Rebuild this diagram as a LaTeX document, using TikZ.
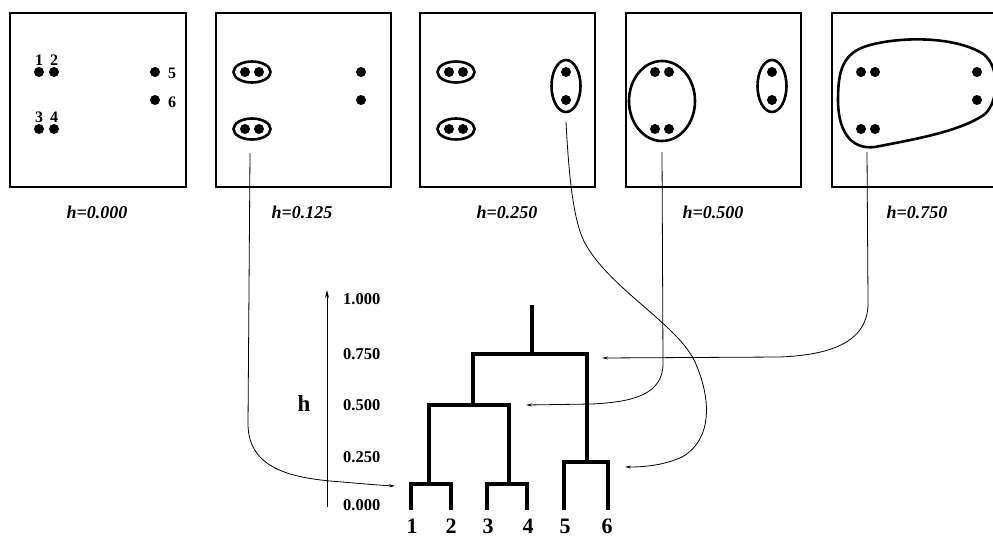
\documentclass[tikz,border=0pt]{standalone}
\usepackage{fontspec}
\setmainfont{Liberation Serif}
\usetikzlibrary{arrows.meta}
\begin{document}
\begin{tikzpicture}[x=1pt,y=-1pt,
  panel/.style={draw,line width=1.1pt},
  pt/.style={fill,circle,inner sep=0pt,minimum size=10pt},
  grp/.style={draw,line width=2.6pt},
  plab/.style={font=\fontsize{18}{21}\selectfont\bfseries\itshape,inner sep=0pt},
  num/.style={font=\fontsize{16}{18}\selectfont\bfseries,inner sep=0pt},
  tick/.style={font=\fontsize{16.5}{19}\selectfont\bfseries,inner sep=0pt,anchor=west},
  leaf/.style={font=\fontsize{22}{24}\selectfont\bfseries,inner sep=0pt,anchor=base},
  hlab/.style={font=\fontsize{23}{26}\selectfont\bfseries,inner sep=0pt},
  dend/.style={line width=3.4pt},
  link/.style={line width=0.8pt,-{Stealth[length=6pt,width=3pt]}}
]
\useasboundingbox (0,0) rectangle (993,536);
% panels
\draw[panel] (10,13) rectangle (186,187);
\draw[panel] (216,13) rectangle (391,187);
\draw[panel] (420,13) rectangle (595,187);
\draw[panel] (626,13) rectangle (801,187);
\draw[panel] (993,13) -- (832,13) -- (832,187) -- (993,187);
% panel labels
\node[plab] (l0) at (97,212) {h=0.000};
\node[plab] (l1) at (302,212) {h=0.125};
\node[plab] (l2) at (507,212) {h=0.250};
\node[plab] (l3) at (713,212) {h=0.500};
\node[plab] (l4) at (917,212) {h=0.750};
% panel 1
\node[pt] (a1) at (39,72) {};
\node[pt] (a2) at (54,72) {};
\node[pt] (a3) at (39,129) {};
\node[pt] (a4) at (54,129) {};
\node[pt] (a5) at (155,72) {};
\node[pt] (a6) at (155,100) {};
\node[num] (n1) at (39,60) {1};
\node[num] (n2) at (54,60) {2};
\node[num] (n3) at (39,117) {3};
\node[num] (n4) at (54,117) {4};
\node[num] (n5) at (172,73) {5};
\node[num] (n6) at (172,102) {6};
% panel 2
\node[pt] (b1) at (245,72) {};
\node[pt] (b2) at (259,72) {};
\node[pt] (b3) at (245,129) {};
\node[pt] (b4) at (259,129) {};
\node[pt] (b5) at (361,72) {};
\node[pt] (b6) at (361,100) {};
\draw[grp] (252,72) ellipse (18.5 and 10.5);
\draw[grp] (252,129) ellipse (18.5 and 10.5);
% panel 3
\node[pt] (c1) at (449,72) {};
\node[pt] (c2) at (463,72) {};
\node[pt] (c3) at (449,129) {};
\node[pt] (c4) at (463,129) {};
\node[pt] (c5) at (566,72) {};
\node[pt] (c6) at (566,100) {};
\draw[grp] (456,72) ellipse (18.5 and 10.5);
\draw[grp] (456,129) ellipse (18.5 and 10.5);
\draw[grp] (566,86) ellipse (14.5 and 26);
% panel 4
\node[pt] (d1) at (655,72) {};
\node[pt] (d2) at (669,72) {};
\node[pt] (d3) at (655,129) {};
\node[pt] (d4) at (669,129) {};
\node[pt] (d5) at (772,72) {};
\node[pt] (d6) at (772,100) {};
\draw[grp] (662,101) ellipse (33 and 40);
\draw[grp] (772,86) ellipse (14.5 and 26);
% panel 5
\node[pt] (e1) at (861,72) {};
\node[pt] (e2) at (875,72) {};
\node[pt] (e3) at (861,129) {};
\node[pt] (e4) at (875,129) {};
\node[pt] (e5) at (977,72) {};
\node[pt] (e6) at (977,100) {};
\draw[grp] (838,100) .. controls (838,70) and (843,52) .. (870,45)
  .. controls (900,37) and (950,36) .. (980,52)
  .. controls (1000,62) and (1000,100) .. (985,114)
  .. controls (960,132) and (910,140) .. (875,147)
  .. controls (850,150) and (838,130) .. cycle;
% dendrogram axis
\coordinate (ax0) at (327,507);
\coordinate (ax1) at (327,290);
\draw[line width=0.9pt,-{Stealth[length=8pt,width=4pt]}] (ax0) -- (ax1);
\node[tick] (t1) at (343,299) {1.000};
\node[tick] (t2) at (343,354) {0.750};
\node[tick] (t3) at (343,405) {0.500};
\node[tick] (t4) at (343,457) {0.250};
\node[tick] (t5) at (343,505) {0.000};
\node[hlab] (hh) at (304,404) {h};
% dendrogram
\draw[dend] (411,510) -- (411,484) -- (451,484) -- (451,510);
\draw[dend] (487,510) -- (487,484) -- (527,484) -- (527,510);
\draw[dend] (564,510) -- (564,462) -- (608,462) -- (608,510);
\draw[dend] (429,484) -- (429,405) -- (509,405) -- (509,484);
\draw[dend] (473,405) -- (473,354) -- (587,354) -- (587,462);
\draw[dend] (532,354) -- (532,305);
\node[leaf] (f1) at (412,533) {1};
\node[leaf] (f2) at (451,533) {2};
\node[leaf] (f3) at (488,533) {3};
\node[leaf] (f4) at (528,533) {4};
\node[leaf] (f5) at (565,533) {5};
\node[leaf] (f6) at (607,533) {6};
% connectors
\coordinate (s1) at (250,153);
\coordinate (e1a) at (395,486);
\draw[link] (s1) -- (248,425) .. controls (249,468) and (290,477) .. (330,481)
  .. controls (355,483) and (375,485) .. (e1a);
\coordinate (s2) at (566,122);
\coordinate (e2a) at (625,467);
\draw[link] (s2) .. controls (569,180) and (574,225) .. (586,245)
  .. controls (612,290) and (678,325) .. (695,362)
  .. controls (712,400) and (712,440) .. (682,457)
  .. controls (662,466) and (642,467) .. (e2a);
\coordinate (s3) at (662,152);
\coordinate (e3a) at (526,405);
\draw[link] (s3) -- (663,362) .. controls (664,395) and (632,402) .. (592,404) -- (e3a);
\coordinate (s4) at (867,152);
\coordinate (e4a) at (602,358);
\draw[link] (s4) -- (868,300) .. controls (870,345) and (825,355) .. (780,357) -- (e4a);
\end{tikzpicture}
\end{document}
